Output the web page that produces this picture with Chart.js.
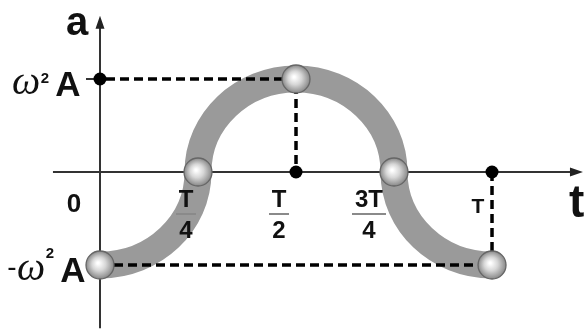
<!DOCTYPE html>
<html>
<head>
<meta charset="utf-8">
<script src="https://cdn.jsdelivr.net/npm/chart.js@4.4.1/dist/chart.umd.min.js"></script>
<style>
    body { margin: 0; background: #fff; }
    #wrap { width: 587px; height: 331px; }
</style>
</head>
<body>
<div id="wrap"><canvas id="accel-chart"></canvas></div>
<script>
// time in periods, acceleration in units of ω²A
const timeValues = [0, 0.25, 0.5, 0.75, 1];
const accelValues = [-1, 0, 1, 0, -1];

// fraction labels under the time axis: numerator / denominator
const timeTickValues = [0.25, 0.5, 0.75, 1];
const timeTickNum = ["T", "T", "3T", "T"];
const timeTickDen = ["4", "2", "4", ""];

// amplitude labels on the a axis
const accelTickValues = [1, -1];
const accelTickSign = ["", "-"];

const INK = "#111";
const SANS = '"Liberation Sans", Arial, sans-serif';

// nudges the fraction labels a little left of their tick
const labelShift = [-12, -17, -25, -14];

function px(chart, t, a) {
    return {
        x: chart.scales.x.getPixelForValue(t),
        y: chart.scales.y.getPixelForValue(a),
    };
}

// turn the line into quarter ellipses: level tangent at the turning points,
// upright tangent where the curve crosses zero
const arcCurve = {
    id: "arcCurve",
    beforeDatasetDraw(chart, args) {
        const meta = args.meta;
        if (args.index !== 0) return;
        const line = meta.dataset;
        line.updateControlPoints(chart.chartArea, meta.iScale.axis);
        const pts = meta.data;
        const k = 0.5523;
        pts.forEach((p, i) => {
            const level = accelValues[i] !== 0;
            const prev = pts[i - 1];
            const next = pts[i + 1];
            if (prev) {
                p.cp1x = level ? p.x + k * (prev.x - p.x) : p.x;
                p.cp1y = level ? p.y : p.y + k * (prev.y - p.y);
            }
            if (next) {
                p.cp2x = level ? p.x + k * (next.x - p.x) : p.x;
                p.cp2y = level ? p.y : p.y + k * (next.y - p.y);
            }
        });
        line._path = undefined;
    },
};

// axes with arrow heads, drawn under the curve
const axesPlugin = {
    id: "axesPlugin",
    beforeDatasetsDraw(chart) {
        const ctx = chart.ctx;
        const o = px(chart, 0, 0);
        const xEnd = chart.scales.x.getPixelForValue(1.232);
        const xStart = chart.scales.x.getPixelForValue(-0.12);
        const yTop = chart.scales.y.getPixelForValue(1.68);
        const yBottom = chart.scales.y.getPixelForValue(-1.68);
        ctx.save();
        ctx.strokeStyle = "#333";
        ctx.fillStyle = "#222";
        ctx.lineWidth = 2;
        ctx.beginPath();
        ctx.moveTo(xStart, o.y);
        ctx.lineTo(xEnd - 8, o.y);
        ctx.moveTo(o.x, yBottom);
        ctx.lineTo(o.x, yTop + 8);
        ctx.stroke();

        ctx.beginPath();
        ctx.moveTo(xEnd, o.y);
        ctx.lineTo(xEnd - 13, o.y - 4.5);
        ctx.lineTo(xEnd - 13, o.y + 4.5);
        ctx.closePath();
        ctx.moveTo(o.x, yTop);
        ctx.lineTo(o.x - 4.5, yTop + 13);
        ctx.lineTo(o.x + 4.5, yTop + 13);
        ctx.closePath();
        ctx.fill();

        // small tick at +ω²A
        const top = px(chart, 0, 1);
        ctx.beginPath();
        ctx.moveTo(o.x - 14, top.y);
        ctx.lineTo(o.x, top.y);
        ctx.stroke();
        ctx.restore();
    },
};

function drawBall(ctx, x, y, r) {
    const g = ctx.createRadialGradient(x - 2, y - 2, 1, x, y, r);
    g.addColorStop(0, "#ffffff");
    g.addColorStop(0.45, "#d6d6d6");
    g.addColorStop(1, "#888888");
    ctx.beginPath();
    ctx.arc(x, y, r, 0, Math.PI * 2);
    ctx.fillStyle = g;
    ctx.fill();
    ctx.lineWidth = 1.3;
    ctx.strokeStyle = "#666";
    ctx.stroke();
}

function drawDot(ctx, x, y) {
    ctx.beginPath();
    ctx.arc(x, y, 6.5, 0, Math.PI * 2);
    ctx.fillStyle = "#000";
    ctx.fill();
}

// guides, dots, balls and all text on top of the curve
const overlayPlugin = {
    id: "overlayPlugin",
    afterDatasetsDraw(chart) {
        const ctx = chart.ctx;
        const o = px(chart, 0, 0);
        const last = timeValues.length - 1;
        const peakIdx = accelValues.indexOf(Math.max(...accelValues));
        const peak = px(chart, timeValues[peakIdx], accelValues[peakIdx]);
        const start = px(chart, timeValues[0], accelValues[0]);
        const end = px(chart, timeValues[last], accelValues[last]);
        const peakOnAxis = px(chart, 0, accelValues[peakIdx]);
        const peakOnT = px(chart, timeValues[peakIdx], 0);
        const endOnT = px(chart, timeValues[last], 0);

        ctx.save();
        ctx.strokeStyle = "#000";
        ctx.lineWidth = 3.5;
        ctx.setLineDash([9, 5]);
        ctx.beginPath();
        ctx.moveTo(peakOnAxis.x + 6, peakOnAxis.y);
        ctx.lineTo(peak.x, peak.y);
        ctx.lineTo(peakOnT.x, peakOnT.y);
        ctx.moveTo(start.x, start.y);
        ctx.lineTo(end.x, end.y);
        ctx.lineTo(endOnT.x, endOnT.y);
        ctx.stroke();
        ctx.setLineDash([]);

        drawDot(ctx, peakOnAxis.x, peakOnAxis.y);
        drawDot(ctx, peakOnT.x, peakOnT.y);
        drawDot(ctx, endOnT.x, endOnT.y);

        chart.getDatasetMeta(0).data.forEach((p) => drawBall(ctx, p.x, p.y, 14));

        // axis names and origin
        ctx.fillStyle = INK;
        ctx.textBaseline = "alphabetic";
        ctx.textAlign = "center";
        ctx.font = "bold 40px " + SANS;
        ctx.fillText("a", o.x - 23, 35);
        ctx.textAlign = "left";
        ctx.font = "bold 46px " + SANS;
        ctx.fillText("t", 569, o.y + 45);
        ctx.textAlign = "center";
        ctx.font = "bold 26px " + SANS;
        ctx.fillText("0", o.x - 26, o.y + 40);

        // fraction ticks on the time axis
        timeTickValues.forEach((v, i) => {
            const cx = chart.scales.x.getPixelForValue(v) + labelShift[i];
            const den = timeTickDen[i];
            ctx.fillStyle = INK;
            if (den) {
                ctx.font = "bold 24px " + SANS;
                ctx.fillText(timeTickNum[i], cx, o.y + 35);
                const w = timeTickNum[i].length > 1 ? 34 : 20;
                ctx.fillStyle = "#8a8a8a";
                ctx.fillRect(cx - w / 2, o.y + 41, w, 2);
                ctx.fillStyle = INK;
                ctx.font = "bold 24px " + SANS;
                ctx.fillText(den, cx, o.y + 66);
            } else {
                ctx.font = "bold 21px " + SANS;
                ctx.fillText(timeTickNum[i], cx, o.y + 41);
            }
        });

        // ±ω²A on the a axis
        accelTickValues.forEach((v, i) => {
            const y = chart.scales.y.getPixelForValue(v);
            const sign = accelTickSign[i];
            const dx = sign ? 5 : 0;
            ctx.fillStyle = INK;
            ctx.textAlign = "center";
            if (sign) {
                ctx.font = "28px " + SANS;
                ctx.fillText(sign, o.x - 88, y + 11);
            }
            ctx.font = "italic 40px \"Liberation Serif\", serif";
            ctx.fillText("ω", o.x - 74 + dx, y + 15);
            ctx.font = "bold 15px " + SANS;
            ctx.fillText("2", o.x - 55 + dx, y + (sign ? -7 : 4));
            ctx.font = "bold 35px " + SANS;
            ctx.fillText("A", o.x - 32 + dx, y + 17);
        });
        ctx.restore();
    },
};

new Chart(document.getElementById("accel-chart"), {
    type: "line",
    data: {
        datasets: [
            {
                data: timeValues.map((t, i) => ({ x: t, y: accelValues[i] })),
                borderColor: "#9a9a9a",
                borderWidth: 27,
                borderCapStyle: "butt",
                tension: 0.4,
                pointRadius: 0,
                fill: false,
            },
        ],
    },
    options: {
        responsive: true,
        maintainAspectRatio: false,
        animation: false,
        layout: { padding: 0 },
        plugins: {
            legend: { display: false },
            tooltip: { enabled: false },
        },
        scales: {
            x: { type: "linear", min: -0.2551, max: 1.2423, display: false },
            y: { type: "linear", min: -1.7097, max: 1.8495, display: false },
        },
    },
    plugins: [arcCurve, axesPlugin, overlayPlugin],
});
</script>
</body>
</html>
